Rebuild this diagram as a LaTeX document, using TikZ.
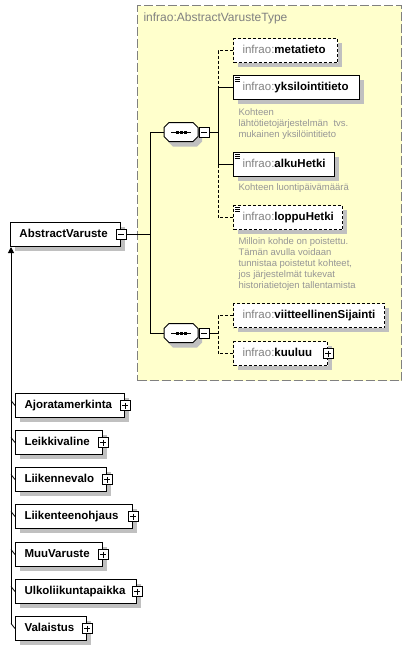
\documentclass[tikz,border=0pt]{standalone}
\usepackage{fontspec}
\setmainfont{Liberation Sans}
\usetikzlibrary{shadows,arrows.meta}
\definecolor{typefill}{RGB}{255,255,204}
\definecolor{bordergray}{RGB}{128,128,128}
\definecolor{txtgray}{RGB}{128,128,128}
\definecolor{descgray}{RGB}{150,150,150}
\definecolor{shadowgray}{RGB}{192,192,192}
\newcommand\pfx{\textcolor{txtgray}{\mdseries infrao:}}
\newcommand\seqicon[3]{%
  \node[inner sep=0pt, minimum width=34pt, minimum height=19pt] (#1) at (#2,#3) {};
  \begin{scope}[shift={(#1.center)}]
    \fill[shadowgray] (-8,-4.5) -- (16,-4.5) -- (21,0.5) -- (21,9.5) -- (16,14.5) -- (-8,14.5) -- (-13,9.5) -- (-13,0.5) -- cycle;
    \draw[fill=white] (-12,-9.5) -- (12,-9.5) -- (17,-4.5) -- (17,4.5) -- (12,9.5) -- (-12,9.5) -- (-17,4.5) -- (-17,-4.5) -- cycle;
    \draw (-10,0) -- (10,0);
    \fill (-5.5,-1.5) rectangle ++(3,3);
    \fill (-1.5,-1.5) rectangle ++(3,3);
    \fill (2.5,-1.5) rectangle ++(3,3);
  \end{scope}}
\begin{document}
\begin{tikzpicture}[x=1pt, y=-1pt, line width=1pt,
  font=\fontsize{11.5}{13}\selectfont\bfseries,
  elem/.style={draw, fill=white, anchor=north west, minimum height=24pt,
    inner xsep=9pt, inner ysep=0pt, align=left, text height=9pt, text depth=2.5pt,
    drop shadow={shadow xshift=4pt, shadow yshift=-4pt, fill=shadowgray, opacity=1}},
  optelem/.style={elem, dash pattern=on 3pt off 2pt},
  dsh/.style={dash pattern=on 3pt off 2pt},
  minusbox/.style={draw, fill=white, inner sep=0pt, minimum size=10pt, line width=0.9pt,
    path picture={\draw[line width=1pt] ([xshift=2pt]path picture bounding box.west) -- ([xshift=-2pt]path picture bounding box.east);}},
  plusbox/.style={minusbox,
    path picture={\draw[line width=1pt] ([xshift=2pt]path picture bounding box.west) -- ([xshift=-2pt]path picture bounding box.east);
      \draw[line width=1pt] ([yshift=-2pt]path picture bounding box.north) -- ([yshift=2pt]path picture bounding box.south);}},
  desc/.style={anchor=north west, inner sep=0pt, align=left, text=descgray,
    font=\fontsize{9.5}{11}\selectfont\mdseries},
  icon/.style={line width=0.8pt}
]
\useasboundingbox (0,0) rectangle (412,649);

% complex type area
\node[draw=bordergray, fill=typefill, dash pattern=on 9pt off 3pt, anchor=north west,
  minimum width=264pt, minimum height=375pt, inner sep=0pt] (T) at (137,5) {};
\node[anchor=west, inner sep=0pt, text=txtgray, font=\fontsize{12}{14}\selectfont\mdseries] (Ttitle) at (143,18) {infrao:AbstractVarusteType};

% main element
\node[elem, text width=92pt, minimum height=24pt] (AV) at (10,222) {\mbox{AbstractVaruste}};
\node[minusbox] (AVm) at (AV.east) {};

% sequence compositors
\seqicon{seq1}{181}{132}
\node[minusbox] (s1m) at (204,132) {};
\seqicon{seq2}{181}{333}
\node[minusbox] (s2m) at (204,333) {};

% child elements
\node[optelem, text width=86pt] (meta) at (233,38) {\mbox{\pfx metatieto}};
\node[elem, text width=108pt] (yks) at (233,75) {\mbox{\pfx yksilointitieto}};
\node[elem, text width=83pt] (alku) at (233,152) {\mbox{\pfx alkuHetki}};
\node[optelem, text width=91pt] (loppu) at (233,205) {\mbox{\pfx loppuHetki}};
\node[optelem, text width=133pt] (viit) at (233,303) {\mbox{\pfx viitteellinenSijainti}};
\node[optelem, text width=76pt] (kuu) at (233,341) {\mbox{\pfx kuuluu}};
\node[plusbox] (kuup) at (kuu.east) {};

% documentation icons
\foreach \n in {yks,alku,loppu}{
  \draw[icon] ([shift={(2,2.5)}]\n.north west) -- ++(5,0);
  \draw[icon] ([shift={(2,4.5)}]\n.north west) -- ++(5,0);
  \draw[icon] ([shift={(2,6.5)}]\n.north west) -- ++(5,0);
}

% documentation texts
\node[desc] (dyks) at (238,108) {Kohteen\\lähtötietojärjestelmän\ \ tvs.\\mukainen yksilöintitieto};
\node[desc] (dalku) at (238,183) {Kohteen luontipäivämäärä};
\node[desc] (dloppu) at (238,237) {Milloin kohde on poistettu.\\Tämän avulla voidaan\\tunnistaa poistetut kohteet,\\jos järjestelmät tukevat\\historiatietojen tallentamista};

% connectors
\coordinate (j) at (150,0);
\coordinate (b) at (218,0);
\draw (AVm.east) -- (AVm.east -| j);
\draw (seq1.west) -- (seq1.west -| j) -- (seq2.west -| j) -- (seq2.west);
\draw (s1m.east) -- (s1m.east -| b);
\draw[dsh] (meta.west) -- (meta.west -| b) -- (yks.west -| b);
\draw (yks.west) -- (yks.west -| b) -- (alku.west -| b) -- (alku.west);
\draw[dsh] (alku.west -| b) -- (loppu.west -| b) -- (loppu.west);
\draw (s2m.east) -- (s2m.east -| b);
\draw[dsh] (viit.west) -- (viit.west -| b) -- (kuu.west -| b) -- (kuu.west);

% derived types
\node[elem, text width=91pt] (ajo) at (15,393) {\mbox{Ajoratamerkinta}};
\node[elem, text width=69pt] (leik) at (15,430) {\mbox{Leikkivaline}};
\node[elem, text width=73pt] (liikv) at (15,467) {\mbox{Liikennevalo}};
\node[elem, text width=99pt] (liiko) at (15,504) {\mbox{Liikenteenohjaus}};
\node[elem, text width=69pt] (muu) at (15,542) {\mbox{MuuVaruste}};
\node[elem, text width=103pt] (ulko) at (15,579) {\mbox{Ulkoliikuntapaikka}};
\node[elem, text width=53pt] (vala) at (15,616) {\mbox{Valaistus}};
\foreach \n in {ajo,leik,liikv,liiko,muu,ulko,vala}{
  \node[plusbox] (\n p) at (\n.east) {};
  \draw[line width=0.8pt] (\n.west) -- ++(-4,-5);
}

% inheritance line
\coordinate (vbot) at (11,624);
\coordinate (vtop) at (11,247);
\draw[-{Triangle[width=6pt,length=6pt]}] (vbot) -- (vtop);
\end{tikzpicture}
\end{document}
